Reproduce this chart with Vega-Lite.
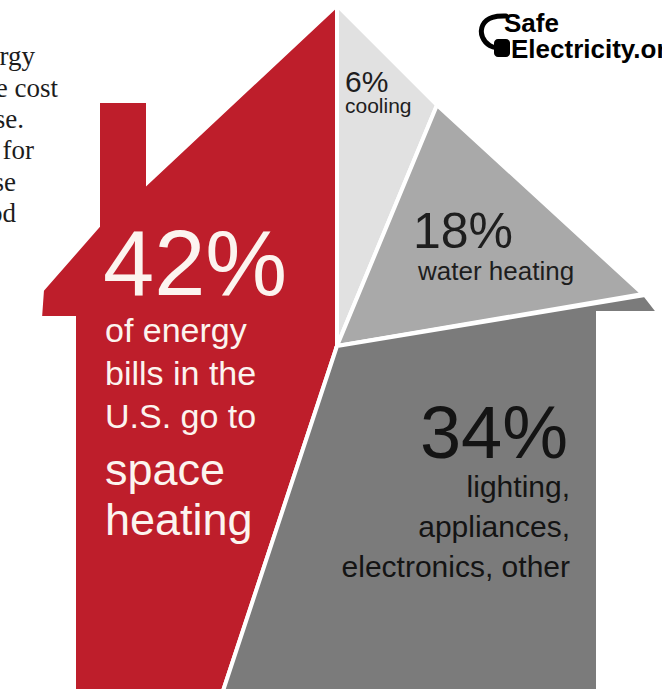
{
  "$schema": "https://vega.github.io/schema/vega-lite/v6.json",
  "width": 662,
  "height": 689,
  "autosize": "none",
  "padding": 0,
  "background": "white",
  "view": {"stroke": null},
  "config": {"axis": {"disable": true}},
  "datasets": {
    "house": [
      {"part": "space heating", "i": 0, "x": 42, "y": 290},
      {"part": "space heating", "i": 1, "x": 98, "y": 226},
      {"part": "space heating", "i": 2, "x": 98, "y": 101},
      {"part": "space heating", "i": 3, "x": 148, "y": 101},
      {"part": "space heating", "i": 4, "x": 148, "y": 182},
      {"part": "space heating", "i": 5, "x": 337, "y": 5},
      {"part": "space heating", "i": 6, "x": 337, "y": 346},
      {"part": "space heating", "i": 7, "x": 222, "y": 694},
      {"part": "space heating", "i": 8, "x": 74, "y": 694},
      {"part": "space heating", "i": 9, "x": 74, "y": 318},
      {"part": "space heating", "i": 10, "x": 40, "y": 318},
      {"part": "space heating", "i": 11, "x": 42, "y": 290},
      {"part": "cooling", "i": 0, "x": 337, "y": 5},
      {"part": "cooling", "i": 1, "x": 437, "y": 105},
      {"part": "cooling", "i": 2, "x": 337, "y": 346},
      {"part": "cooling", "i": 3, "x": 337, "y": 5},
      {"part": "water heating", "i": 0, "x": 437, "y": 105},
      {"part": "water heating", "i": 1, "x": 643, "y": 294},
      {"part": "water heating", "i": 2, "x": 337, "y": 346},
      {"part": "water heating", "i": 3, "x": 437, "y": 105},
      {"part": "other", "i": 0, "x": 337, "y": 346},
      {"part": "other", "i": 1, "x": 645, "y": 295},
      {"part": "other", "i": 2, "x": 659, "y": 313},
      {"part": "other", "i": 3, "x": 598, "y": 313},
      {"part": "other", "i": 4, "x": 598, "y": 694},
      {"part": "other", "i": 5, "x": 222, "y": 694},
      {"part": "other", "i": 6, "x": 337, "y": 346}
    ],
    "bigWhite": [{"x": 103, "y": 295, "t": "42%"}],
    "midWhite": [
      {"x": 105, "y": 342, "t": "of energy"},
      {"x": 105, "y": 385, "t": "bills in the"},
      {"x": 105, "y": 428, "t": "U.S. go to"}
    ],
    "largeWhite": [
      {"x": 105, "y": 485, "t": "space"},
      {"x": 105, "y": 535, "t": "heating"}
    ],
    "pctCooling": [{"x": 345, "y": 92, "t": "6%"}],
    "lblCooling": [{"x": 345, "y": 113, "t": "cooling"}],
    "pctWater": [{"x": 413, "y": 248, "t": "18%"}],
    "lblWater": [{"x": 418, "y": 280, "t": "water heating"}],
    "pctOther": [{"x": 568, "y": 458, "t": "34%"}],
    "lblOther": [
      {"x": 570, "y": 497, "t": "lighting,"},
      {"x": 570, "y": 537, "t": "appliances,"},
      {"x": 570, "y": 577, "t": "electronics, other"}
    ],
    "serif": [
      {"x": 35, "y": 65, "t": "energy"},
      {"x": 58, "y": 97, "t": "the cost"},
      {"x": 24, "y": 128, "t": "house."},
      {"x": 34, "y": 159, "t": "for"},
      {"x": 16, "y": 191, "t": "these"},
      {"x": 16, "y": 222, "t": "good"}
    ],
    "cord": [
      {"i": 0, "x": 506, "y": 16},
      {"i": 1, "x": 492, "y": 16},
      {"i": 2, "x": 481, "y": 24},
      {"i": 3, "x": 481, "y": 38},
      {"i": 4, "x": 490, "y": 47},
      {"i": 5, "x": 498, "y": 48}
    ],
    "plug": [{"x": 494, "x2": 510, "y": 39, "y2": 57}],
    "logoSafe": [{"x": 504, "y": 32, "t": "Safe"}],
    "logoElec": [{"x": 511, "y": 58, "t": "Electricity.org"}]
  },
  "encoding": {
    "x": {"field": "x", "type": "quantitative", "scale": {"domain": [0, 662], "nice": false, "zero": false}, "axis": null},
    "y": {"field": "y", "type": "quantitative", "scale": {"domain": [0, 689], "nice": false, "zero": false, "reverse": true}, "axis": null}
  },
  "layer": [
    {
      "data": {"name": "house"},
      "mark": {"type": "line", "stroke": "white", "strokeWidth": 4, "strokeJoin": "miter", "interpolate": "linear"},
      "encoding": {
        "order": {"field": "i", "type": "quantitative"},
        "detail": {"field": "part", "type": "nominal"},
        "fill": {"field": "part", "type": "nominal", "legend": null,
          "scale": {"domain": ["space heating", "cooling", "water heating", "other"], "range": ["#be1e2b", "#e1e1e1", "#a9a9a9", "#7b7b7b"]}}
      }
    },
    {
      "data": {"name": "bigWhite"},
      "mark": {"type": "text", "align": "left", "baseline": "alphabetic", "font": "Liberation Sans", "fontSize": 92, "color": "#fcf4ef"},
      "encoding": {"text": {"field": "t"}}
    },
    {
      "data": {"name": "midWhite"},
      "mark": {"type": "text", "align": "left", "baseline": "alphabetic", "font": "Liberation Sans", "fontSize": 34, "color": "#fcf4ef"},
      "encoding": {"text": {"field": "t"}}
    },
    {
      "data": {"name": "largeWhite"},
      "mark": {"type": "text", "align": "left", "baseline": "alphabetic", "font": "Liberation Sans", "fontSize": 45, "color": "#fcf4ef"},
      "encoding": {"text": {"field": "t"}}
    },
    {
      "data": {"name": "pctCooling"},
      "mark": {"type": "text", "align": "left", "baseline": "alphabetic", "font": "Liberation Sans", "fontSize": 30, "color": "#1e1e1e"},
      "encoding": {"text": {"field": "t"}}
    },
    {
      "data": {"name": "lblCooling"},
      "mark": {"type": "text", "align": "left", "baseline": "alphabetic", "font": "Liberation Sans", "fontSize": 21, "color": "#1e1e1e"},
      "encoding": {"text": {"field": "t"}}
    },
    {
      "data": {"name": "pctWater"},
      "mark": {"type": "text", "align": "left", "baseline": "alphabetic", "font": "Liberation Sans", "fontSize": 50, "color": "#1e1e1e"},
      "encoding": {"text": {"field": "t"}}
    },
    {
      "data": {"name": "lblWater"},
      "mark": {"type": "text", "align": "left", "baseline": "alphabetic", "font": "Liberation Sans", "fontSize": 26, "color": "#1e1e1e"},
      "encoding": {"text": {"field": "t"}}
    },
    {
      "data": {"name": "pctOther"},
      "mark": {"type": "text", "align": "right", "baseline": "alphabetic", "font": "Liberation Sans", "fontSize": 74, "color": "#141414"},
      "encoding": {"text": {"field": "t"}}
    },
    {
      "data": {"name": "lblOther"},
      "mark": {"type": "text", "align": "right", "baseline": "alphabetic", "font": "Liberation Sans", "fontSize": 30, "color": "#141414"},
      "encoding": {"text": {"field": "t"}}
    },
    {
      "data": {"name": "serif"},
      "mark": {"type": "text", "align": "right", "baseline": "alphabetic", "font": "Liberation Serif", "fontSize": 27, "color": "#1c1c1c"},
      "encoding": {"text": {"field": "t"}}
    },
    {
      "data": {"name": "cord"},
      "mark": {"type": "line", "color": "black", "strokeWidth": 5, "interpolate": "basis", "strokeCap": "round"},
      "encoding": {"order": {"field": "i", "type": "quantitative"}}
    },
    {
      "data": {"name": "plug"},
      "mark": {"type": "rect", "color": "black", "cornerRadius": 4},
      "encoding": {
        "x2": {"field": "x2"},
        "y2": {"field": "y2"}
      }
    },
    {
      "data": {"name": "logoSafe"},
      "mark": {"type": "text", "align": "left", "baseline": "alphabetic", "font": "Liberation Sans", "fontWeight": "bold", "fontSize": 26, "color": "black"},
      "encoding": {"text": {"field": "t"}}
    },
    {
      "data": {"name": "logoElec"},
      "mark": {"type": "text", "align": "left", "baseline": "alphabetic", "font": "Liberation Sans", "fontWeight": "bold", "fontSize": 26, "color": "black"},
      "encoding": {"text": {"field": "t"}}
    }
  ]
}
